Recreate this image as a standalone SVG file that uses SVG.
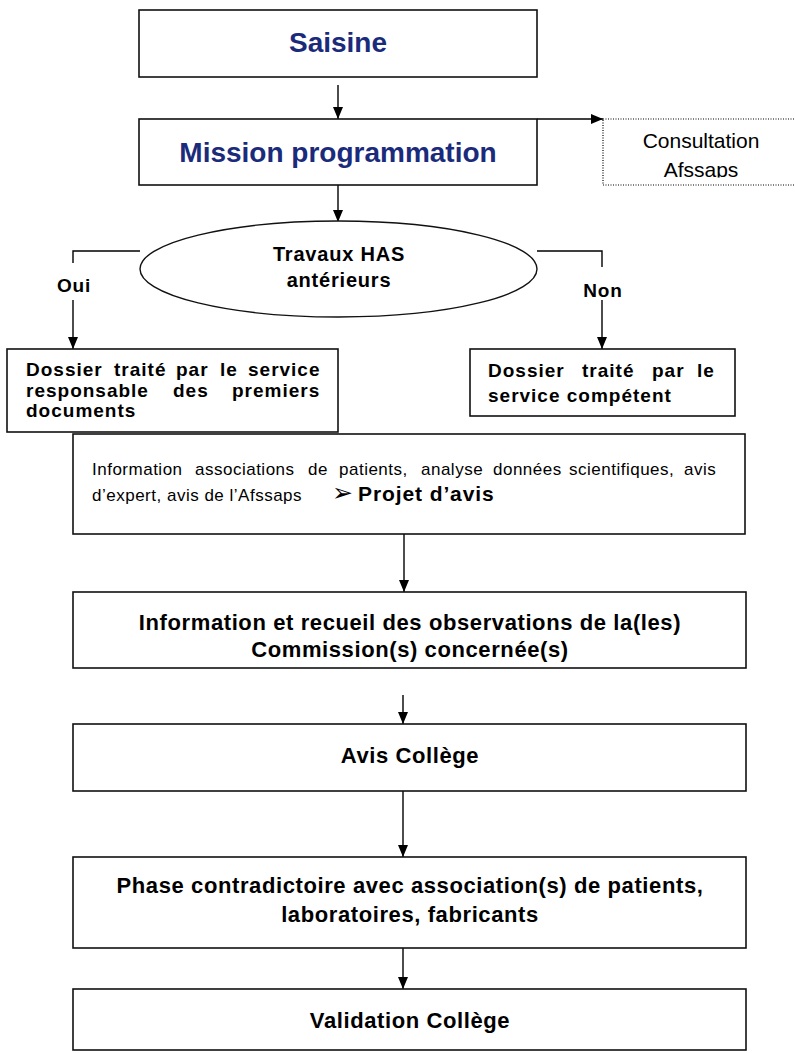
<svg xmlns="http://www.w3.org/2000/svg" width="795" height="1053" viewBox="0 0 795 1053">
<defs>
<marker id="ah" markerUnits="userSpaceOnUse" markerWidth="12" markerHeight="10" refX="12" refY="5" orient="auto">
<path d="M0,0 L12,5 L0,10 z" fill="#000"/>
</marker>
<clipPath id="cclip"><rect x="603" y="119" width="200" height="58.5"/></clipPath>
</defs>
<style>
text{font-family:"Liberation Sans",Arial,sans-serif;fill:#000}
.box{fill:#fff;stroke:#111;stroke-width:1.6}
.title{font-size:28px;font-weight:bold;fill:#1b2b7b;text-anchor:middle}
.b22{font-size:22px;font-weight:bold;letter-spacing:0.6px;text-anchor:middle}
.b19{font-size:19px;font-weight:bold;letter-spacing:1px}
.b20{font-size:20px;font-weight:bold;letter-spacing:0.8px;text-anchor:middle}
.lbl{font-size:19px;font-weight:bold;letter-spacing:0.8px;text-anchor:middle}
.reg{font-size:17px;letter-spacing:0.5px}
.con{stroke:#000;stroke-width:1.4;fill:none}
</style>
<rect width="795" height="1053" fill="#fff"/>

<g id="connectors">
<path class="con" d="M338,85 V119" marker-end="url(#ah)"/>
<path class="con" d="M537,119 H603" marker-end="url(#ah)"/>
<path class="con" d="M338,185 V222" marker-end="url(#ah)"/>
<path class="con" d="M140,251 H73 V263"/>
<path class="con" d="M73,300 V349" marker-end="url(#ah)"/>
<path class="con" d="M537,251 H602 V267"/>
<path class="con" d="M602,300 V349" marker-end="url(#ah)"/>
<path class="con" d="M404,534 V592" marker-end="url(#ah)"/>
<path class="con" d="M403,695 V724" marker-end="url(#ah)"/>
<path class="con" d="M403,791 V857" marker-end="url(#ah)"/>
<path class="con" d="M403,948 V989" marker-end="url(#ah)"/>
</g>

<g id="saisine">
<rect class="box" x="139" y="10" width="398" height="67"/>
<text class="title" x="338" y="52">Saisine</text>
</g>

<g id="mission">
<rect class="box" x="139" y="119" width="398" height="66"/>
<text class="title" x="338" y="162">Mission programmation</text>
</g>

<g id="consultation">
<rect x="603" y="119" width="200" height="66" fill="none" stroke="#000" stroke-width="1.2" stroke-dasharray="1,1.5"/>
<g clip-path="url(#cclip)">
<text x="701" y="148" font-size="21" text-anchor="middle">Consultation</text>
<text x="701" y="177" font-size="21" text-anchor="middle">Afssaps</text>
</g>
</g>

<g id="travaux">
<ellipse cx="338.5" cy="269" rx="198.5" ry="48" fill="#fff" stroke="#111" stroke-width="1.4"/>
<text class="b20" x="339" y="261">Travaux HAS</text>
<text class="b20" x="339" y="287">antérieurs</text>
</g>

<g id="label-oui"><text class="lbl" x="74" y="292">Oui</text></g>
<g id="label-non"><text class="lbl" x="603" y="297">Non</text></g>

<g id="dossier-premiers">
<rect class="box" x="7" y="349" width="331" height="83"/>
<text class="b19" y="376"><tspan x="26">Dossier</tspan><tspan x="114">traité</tspan><tspan x="176">par</tspan><tspan x="220">le</tspan><tspan x="248">service</tspan></text>
<text class="b19" y="397"><tspan x="26">responsable</tspan><tspan x="173">des</tspan><tspan x="232">premiers</tspan></text>
<text class="b19" x="26" y="417">documents</text>
</g>

<g id="dossier-competent">
<rect class="box" x="470" y="349" width="265" height="67"/>
<text class="b19" y="377"><tspan x="488">Dossier</tspan><tspan x="582">traité</tspan><tspan x="652">par</tspan><tspan x="697">le</tspan></text>
<text class="b19" x="488" y="402">service compétent</text>
</g>

<g id="information">
<rect class="box" x="73" y="434" width="672" height="100"/>
<text class="reg" y="475"><tspan x="92">Information</tspan><tspan x="195">associations</tspan><tspan x="308">de</tspan><tspan x="339">patients,</tspan><tspan x="421">analyse</tspan><tspan x="493">données</tspan><tspan x="569">scientifiques,</tspan><tspan x="684">avis</tspan></text>
<text class="reg" x="92" y="501" letter-spacing="0.75">d’expert, avis de l’Afssaps</text>
<text x="332" y="501" font-family="'DejaVu Sans',sans-serif" font-size="25">➢</text>
<text x="358" y="501" font-size="21" font-weight="bold" letter-spacing="0.9">Projet d’avis</text>
</g>

<g id="recueil">
<rect class="box" x="73" y="592" width="673" height="76"/>
<text class="b22" x="410" y="630">Information et recueil des observations de la(les)</text>
<text class="b22" x="410" y="657">Commission(s) concernée(s)</text>
</g>

<g id="avis-college">
<rect class="box" x="73" y="724" width="673" height="67"/>
<text class="b22" x="410" y="763">Avis Collège</text>
</g>

<g id="phase">
<rect class="box" x="73" y="857" width="673" height="91"/>
<text class="b22" x="410" y="893">Phase contradictoire avec association(s) de patients,</text>
<text class="b22" x="410" y="922">laboratoires, fabricants</text>
</g>

<g id="validation">
<rect class="box" x="73" y="989" width="673" height="61"/>
<text class="b22" x="410" y="1028">Validation Collège</text>
</g>
</svg>
